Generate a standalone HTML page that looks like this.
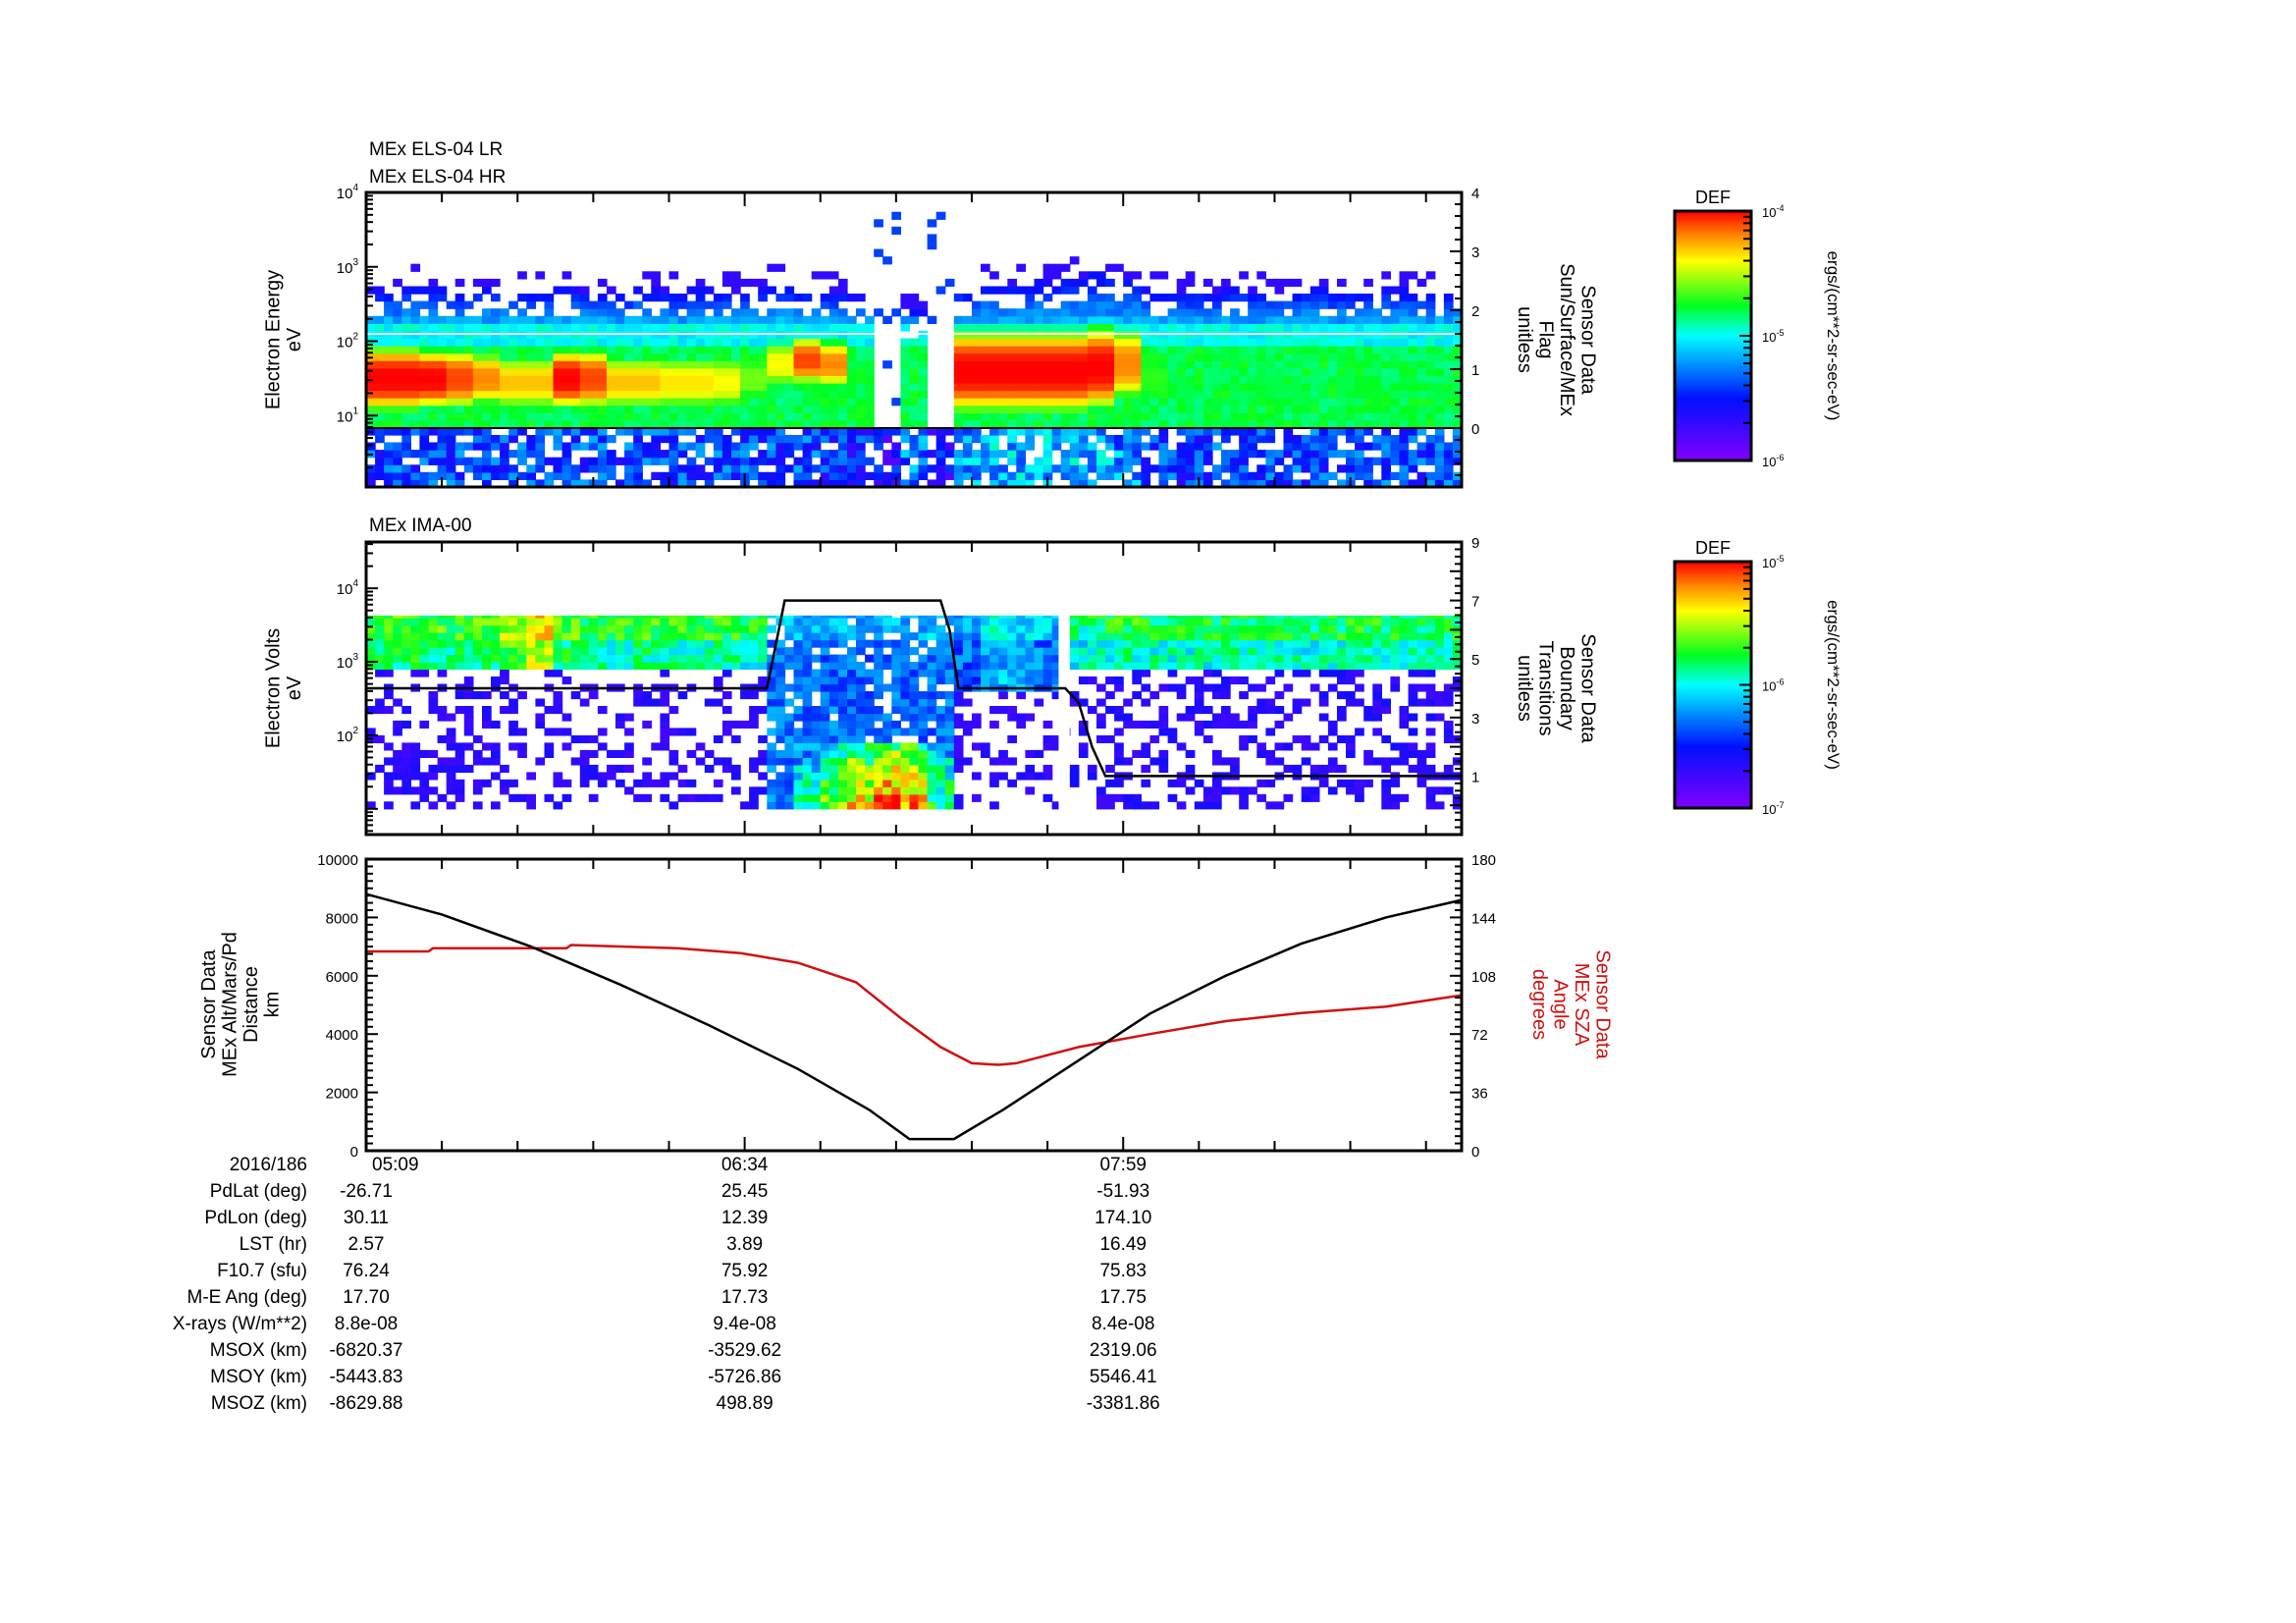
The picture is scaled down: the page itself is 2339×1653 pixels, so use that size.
<!DOCTYPE html>
<html><head><meta charset="utf-8">
<style>
html,body{margin:0;padding:0;background:#fff;}
svg{display:block;font-family:"Liberation Sans",sans-serif;}
</style></head>
<body>
<svg id="fig" width="2339" height="1653" viewBox="0 0 2339 1653" xmlns="http://www.w3.org/2000/svg">
<defs>
<linearGradient id="rb" x1="0" y1="1" x2="0" y2="0">
<stop offset="0" stop-color="#8000ff"/><stop offset="0.25" stop-color="#0010ff"/>
<stop offset="0.5" stop-color="#00ffff"/><stop offset="0.62" stop-color="#00ff20"/>
<stop offset="0.8" stop-color="#ffff00"/><stop offset="0.9" stop-color="#ff8800"/>
<stop offset="1" stop-color="#ff0000"/></linearGradient>
</defs>
<g id="g"></g>
</svg>
<script>
// ---- data ----
var timeTickLabels = ["05:09","06:34","07:59"];
var timeTickMin = [0,85,170];
var binMinutes = 6;
// ELS spectrogram column profiles (41 bins of 6 minutes)
var elsPeak   = [1,1,1,0.95,0.9,0.85,0.85,1,0.95,0.85,0.85,0.82,0.82,0.8,0.7,0.8,0.95,0.9,0.6,-1,0.4,-1,1,1,1,1,1,1,0.9,0.65,0.6,0.58,0.58,0.6,0.6,0.58,0.6,0.62,0.58,0.58,0.58];
var elsCenter = [1.5,1.5,1.5,1.5,1.5,1.45,1.45,1.5,1.5,1.45,1.45,1.45,1.45,1.45,1.5,1.7,1.75,1.7,1.6,1.5,1.5,1.5,1.6,1.6,1.6,1.6,1.6,1.65,1.7,1.5,1.4,1.4,1.4,1.4,1.4,1.4,1.4,1.4,1.4,1.4,1.4];
var elsWidth  = [0.55,0.55,0.5,0.5,0.45,0.45,0.45,0.5,0.5,0.45,0.45,0.45,0.45,0.45,0.45,0.4,0.4,0.4,0.4,0.4,0.4,0.4,0.7,0.7,0.7,0.7,0.7,0.7,0.6,0.5,0.5,0.5,0.5,0.5,0.5,0.5,0.5,0.5,0.5,0.5,0.5];
var elsTop    = [2.7,2.75,2.7,2.65,2.7,2.65,2.65,2.7,2.65,2.65,2.7,2.65,2.7,2.65,2.7,2.75,2.7,2.65,2.6,1.2,2.4,1.2,2.7,2.75,2.75,2.8,2.85,2.9,2.85,2.7,2.65,2.65,2.7,2.65,2.65,2.7,2.65,2.65,2.7,2.65,2.65];
var elsLow    = [0.3,0.3,0.3,0.3,0.3,0.3,0.3,0.3,0.3,0.3,0.3,0.3,0.3,0.3,0.3,0.3,0.3,0.28,0.25,0.2,0.35,0.2,0.4,0.42,0.42,0.42,0.42,0.42,0.38,0.3,0.3,0.3,0.3,0.3,0.3,0.3,0.3,0.3,0.3,0.3,0.3];
// IMA spectrogram column profiles
var imaBandLow  = [2.85,2.85,2.85,2.85,2.85,2.85,2.85,2.85,2.85,2.85,2.85,2.85,2.85,2.85,2.85,1.0,1.0,1.0,1.0,1.0,1.0,1.0,2.6,2.6,2.6,2.6,2.95,2.95,2.95,2.95,2.95,2.95,2.95,2.95,2.95,2.95,2.95,2.95,2.95,2.95,2.95];
var imaBandLevel= [0.56,0.58,0.56,0.55,0.58,0.65,0.74,0.58,0.55,0.55,0.56,0.55,0.55,0.55,0.52,0.34,0.32,0.33,0.32,0.33,0.32,0.34,0.33,0.42,0.4,0.35,0.48,0.52,0.54,0.52,0.52,0.52,0.54,0.52,0.52,0.52,0.52,0.54,0.52,0.52,0.52];
var imaHot      = [0,0,0,0,0,0,0,0,0,0,0,0,0,0,0,0,0.55,0.7,0.85,0.95,0.9,0.6,0,0,0,0,0,0,0,0,0,0,0,0,0,0,0,0,0,0,0];
var imaSpeckle  = [0.35,0.35,0.35,0.35,0.35,0.35,0.35,0.35,0.35,0.35,0.35,0.35,0.35,0.35,0.35,0,0,0,0,0,0,0,0.3,0.3,0.3,0.3,0.4,0.4,0.4,0.4,0.4,0.4,0.4,0.4,0.4,0.4,0.4,0.4,0.4,0.4,0.4];
// boundary transitions flag (minutes, value)
var bndT = [0,90,92,94,129,131,133,157,160,163,166,246];
var bndV = [4,4,5.5,7,7,6,4,4,3.5,2,1,1];
// altitude (km) and SZA (deg) vs minutes
var altT = [0,17,37,57,77,97,113,122,132,143,160,176,193,210,229,246];
var altV = [8800,8100,7000,5700,4300,2800,1400,400,400,1400,3100,4700,6000,7100,8000,8600];
var szaT = [0,14,15,45,46,70,84,97,110,120,129,136,142,146,160,176,193,210,229,246];
var szaV = [123,123,125,125,127,125,122,116,104,82,64,54,53,54,64,72,80,85,89,96];
// table rows
var rowLabels = ["2016/186","PdLat (deg)","PdLon (deg)","LST (hr)","F10.7 (sfu)","M-E Ang (deg)","X-rays (W/m**2)","MSOX (km)","MSOY (km)","MSOZ (km)"];
var rowVals = [["05:09","06:34","07:59"],["-26.71","25.45","-51.93"],["30.11","12.39","174.10"],["2.57","3.89","16.49"],["76.24","75.92","75.83"],["17.70","17.73","17.75"],["8.8e-08","9.4e-08","8.4e-08"],["-6820.37","-3529.62","2319.06"],["-5443.83","-5726.86","5546.41"],["-8629.88","498.89","-3381.86"]];

// ---- helpers ----
var NS="http://www.w3.org/2000/svg", G=document.getElementById('g');
function el(tag,attrs,parent,txt){var e=document.createElementNS(NS,tag);for(var k in attrs)e.setAttribute(k,attrs[k]);if(txt!=null)e.textContent=txt;(parent||G).appendChild(e);return e;}
var X0=373,X1=1489,TMAX=246;
function xT(t){return X0+t*(X1-X0)/TMAX;}
function cmap(v){v=Math.max(0,Math.min(1,v));
 var s=[[0,128,0,255],[0.25,0,16,255],[0.5,0,255,255],[0.62,0,255,32],[0.8,255,255,0],[0.9,255,136,0],[1,255,0,0]];
 for(var i=1;i<s.length;i++){if(v<=s[i][0]){var a=s[i-1],b=s[i],f=(v-a[0])/(b[0]-a[0]);
 return 'rgb('+Math.round(a[1]+f*(b[1]-a[1]))+','+Math.round(a[2]+f*(b[2]-a[2]))+','+Math.round(a[3]+f*(b[3]-a[3]))+')';}}return 'red';}
function hsh(i,j){var h=(i*374761393+j*668265263)|0;h=(h^(h>>>13))*1274126177|0;return ((h^(h>>>16))>>>0)%1000/1000;}

// ---- panel 1: ELS ----
var P1={y0:196,y1:496,lmin:0.04,lmax:4};
function y1L(l){return P1.y1-(l-P1.lmin)/(P1.lmax-P1.lmin)*(P1.y1-P1.y0);}
var g1=el('g',{});
var sub=3,dE=0.1;
for(var b=0;b<elsPeak.length;b++){
 for(var s=0;s<sub;s++){
  var t0=b*binMinutes+s*binMinutes/sub; if(t0>=TMAX)continue;
  var t1=Math.min(TMAX,t0+binMinutes/sub);
  for(var e=0;e<40;e++){
   var lo=P1.lmin+e*dE, mid=lo+dE/2; if(lo>=P1.lmax)continue;
   var hi=Math.min(P1.lmax,lo+dE), r=hsh(b*sub+s,e), v=null;
   if(mid<0.8){ if(r<0.8) v=elsLow[b]+(r-0.4)*0.3; }
   else if(elsPeak[b]<0){ if(r<0.12) v=0.3; }
   else if(mid<elsTop[b]){
     var base = mid<1.9?0.6:(mid<2.2?0.5:0.45-0.25*(mid-2.2)/(elsTop[b]-2.2));
     base += (r-0.5)*0.08;
     var d=Math.abs(mid-elsCenter[b])/elsWidth[b];
     v=Math.max(base, elsPeak[b]*Math.exp(-Math.pow(d,3)));
     if(mid>elsTop[b]-0.35 && r<0.35) v=null;
   } else if(mid<elsTop[b]+0.25 && r<0.25) v=0.15;
   if(v==null)continue;
   var c=el('rect',{x:xT(t0).toFixed(1),y:y1L(hi).toFixed(1),width:(xT(t1)-xT(t0)+0.6).toFixed(1),height:(y1L(lo)-y1L(hi)+0.6).toFixed(1),fill:cmap(v)},g1);
   
   
  }
 }
}
// flag lines
var fl=function(f){return 196+(4-f)*60;};
el('line',{x1:X0,x2:X1,y1:fl(1.6),y2:fl(1.6),stroke:'#fff','stroke-width':2,});
el('line',{x1:X0,x2:X1,y1:fl(0),y2:fl(0),stroke:'#000','stroke-width':2,});

// ---- panel 2: IMA ----
var P2={y0:552,y1:850,lmin:0.65,lmax:4.63};
function y2L(l){return P2.y1-(l-P2.lmin)/(P2.lmax-P2.lmin)*(P2.y1-P2.y0);}
var g2=el('g',{});
var TOPL=3.63;
for(var b=0;b<imaBandLow.length;b++){
 for(var s=0;s<sub;s++){
  var t0=b*binMinutes+s*binMinutes/sub; if(t0>=TMAX)continue;
  var t1=Math.min(TMAX,t0+binMinutes/sub);
  for(var e=0;e<27;e++){
   var lo=1.0+e*dE, mid=lo+dE/2; if(lo>=TOPL)continue;
   var hi=Math.min(TOPL,lo+dE), r=hsh(b*sub+s+500,e), v=null;
   if(mid>=imaBandLow[b]){
     v=imaBandLevel[b]+(mid>3.3?0.08:0)+(r-0.5)*0.18;
     if(imaBandLow[b]<2 && r<0.15) v=null;
     if(imaHot[b]>0 && mid<1.9) v=imaHot[b]*(1-(mid-1.0)*0.35)+(r-0.5)*0.25;
   } else if(r<imaSpeckle[b]) v=0.12+r*0.25;
   if(v==null)continue;
   var c=el('rect',{x:xT(t0).toFixed(1),y:y2L(hi).toFixed(1),width:(xT(t1)-xT(t0)+0.6).toFixed(1),height:(y2L(lo)-y2L(hi)+0.6).toFixed(1),fill:cmap(v)},g2);
   
   
  }
 }
}
el('rect',{x:xT(155.5),y:P2.y0,width:xT(158)-xT(155.5),height:P2.y1-P2.y0,fill:'#fff',});
function yB(v){return P2.y0+(9-v)*(P2.y1-P2.y0)/10;}
var bp=bndT.map(function(t,i){return xT(t).toFixed(1)+','+yB(bndV[i]).toFixed(1);}).join(' ');
el('polyline',{points:bp,fill:'none',stroke:'#000','stroke-width':2.5,});

// ---- panel 3 ----
var P3={y0:875,y1:1172};
function yA(v){return P3.y1-v/10000*(P3.y1-P3.y0);}
function yS(v){return P3.y1-v/180*(P3.y1-P3.y0);}
function stepPts(T,V,yf){var p=[];for(var i=0;i<T.length;i++){p.push(xT(T[i]).toFixed(1)+','+yf(V[i]).toFixed(1));}return p.join(' ');}
el('polyline',{points:stepPts(szaT,szaV,yS),fill:'none',stroke:'#d01010','stroke-width':2.5,});
el('polyline',{points:stepPts(altT,altV,yA),fill:'none',stroke:'#000','stroke-width':2.5,});

// ---- frames & ticks ----
function frame(P,name){
 el('rect',{x:X0,y:P.y0,width:X1-X0,height:P.y1-P.y0,fill:'none',stroke:'#000','stroke-width':3,});
 for(var t=0;t<=TMAX;t+=17){var L=(timeTickMin.indexOf(t)>=0)?14:10;
  el('line',{x1:xT(t),x2:xT(t),y1:P.y0,y2:P.y0+L,stroke:'#000','stroke-width':2});
  el('line',{x1:xT(t),x2:xT(t),y1:P.y1,y2:P.y1-L,stroke:'#000','stroke-width':2});}
}
frame(P1,'els-panel-frame');frame(P2,'ima-panel-frame');frame(P3,'orbit-panel-frame');
function logTicks(P,yf,labs){
 for(var d=Math.floor(P.lmin);d<Math.ceil(P.lmax);d++){for(var m=1;m<10;m++){var l=d+Math.log10(m);if(l<P.lmin||l>P.lmax)continue;
  el('line',{x1:X0,x2:X0+(m==1?12:7),y1:yf(l),y2:yf(l),stroke:'#000','stroke-width':2});}}
 labs.forEach(function(p){var t=el('text',{x:X0-8,y:yf(p)+6,'font-size':15,'text-anchor':'end',},null,'10');
  el('tspan',{dy:-8,'font-size':10},t,String(p));});
}
logTicks(P1,y1L,[1,2,3,4]);logTicks(P2,y2L,[2,3,4]);
function rightTicks(y0,y1,vmin,vmax,major,minor,labs,fmt){
 for(var v=vmin;v<=vmax+1e-9;v+=minor){var y=y0+(vmax-v)/(vmax-vmin)*(y1-y0);
  var isM=Math.abs(v/major-Math.round(v/major))<1e-6;el('line',{x1:X1,x2:X1-(isM?12:7),y1:y,y2:y,stroke:'#000','stroke-width':2});}
 labs.forEach(function(v){var y=y0+(vmax-v)/(vmax-vmin)*(y1-y0);el('text',{x:X1+10,y:y+6,'font-size':15,},null,String(v));});
}
rightTicks(P1.y0,P1.y1,-1,4,1,0.2,[0,1,2,3,4]);
rightTicks(P2.y0,P2.y1,-1,9,1,0.25,[1,3,5,7,9]);
rightTicks(P3.y0,P3.y1,0,180,36,4.5,[0,36,72,108,144,180]);
for(var v=0;v<=10000;v+=250){var y=yA(v),M=v%2000==0;el('line',{x1:X0,x2:X0+(M?12:7),y1:y,y2:y,stroke:'#000','stroke-width':2});
 if(M)el('text',{x:X0-8,y:y+6,'font-size':15,'text-anchor':'end',},null,String(v));}

// ---- titles ----
function txt(x,y,s,size,name,extra){var a={x:x,y:y,'font-size':size,};for(var k in extra||{})a[k]=extra[k];return el('text',a,null,s);}
txt(376,158,'MEx ELS-04 LR',19,'els-lr-title');
txt(376,186,'MEx ELS-04 HR',19,'els-hr-title');
txt(376,541,'MEx IMA-00',19,'ima-title');
function vlines(cx,cy,lines,rot,name,color){
 var g=el('g',{transform:'translate('+cx+','+cy+') rotate('+rot+')',});
 lines.forEach(function(s,i){el('text',{x:0,y:(i-(lines.length-1)/2)*21.5+7,'font-size':20,'text-anchor':'middle',fill:color||'#000'},g,s);});
}
vlines(288,346,['Electron Energy','eV'],-90,'els-y-axis-title');
vlines(288,701,['Electron Volts','eV'],-90,'ima-y-axis-title');
vlines(244,1023,['Sensor Data','MEx Alt/Mars/Pd','Distance','km'],-90,'altitude-y-axis-title');
vlines(1586,346,['Sensor Data','Sun/Surface/MEx','Flag','unitless'],90,'flag-right-axis-title');
vlines(1586,701,['Sensor Data','Boundary','Transitions','unitless'],90,'boundary-right-axis-title');
vlines(1601,1023,['Sensor Data','MEx SZA','Angle','degrees'],90,'sza-right-axis-title','#d01010');

// ---- colorbars ----
function cbar(y0,y1,exps,name){
 el('rect',{x:1706,y:y0,width:78,height:y1-y0,fill:'url(#rb)',stroke:'#000','stroke-width':3,});
 txt(1745,y0-8,'DEF',18,name+'-label',{'text-anchor':'middle'});
 exps.forEach(function(p,i){var y=y0+i*(y1-y0)/2;var t=el('text',{x:1795,y:y+6,'font-size':13,},null,'10');el('tspan',{dy:-6,'font-size':9},t,String(p));
  if(i==1)el('line',{x1:1784,x2:1772,y1:y,y2:y,stroke:'#000','stroke-width':2});});
 for(var k=2;k<10;k++){[0,1].forEach(function(dd){var y=y0+(y1-y0)/2*(dd+1-Math.log10(k));el('line',{x1:1784,x2:1776,y1:y,y2:y,stroke:'#000','stroke-width':2});});}
 var g=el('g',{transform:'translate(1862,'+((y0+y1)/2)+') rotate(90)',});
 el('text',{x:0,y:0,'font-size':17,'text-anchor':'middle'},g,'ergs/(cm**2-sr-sec-eV)');
}
cbar(215,469,['-4','-5','-6'],'els-colorbar');
cbar(572,823,['-5','-6','-7'],'ima-colorbar');

// ---- table ----
var rowY=[1198,1225,1252,1279,1306,1333,1360,1387,1414,1441].map(function(y){return y-6;});
var colX=[xT(0),xT(85),xT(170)];
rowLabels.forEach(function(l,i){
 txt(313,rowY[i],l,19,'row-label',{'text-anchor':'end'});
 rowVals[i].forEach(function(v,j){txt(colX[j]+(i==0&&j==0?6:0),rowY[i],v,19,'row-value',{'text-anchor':(i==0&&j==0)?'start':'middle'});});
});
</script>
</body></html>
